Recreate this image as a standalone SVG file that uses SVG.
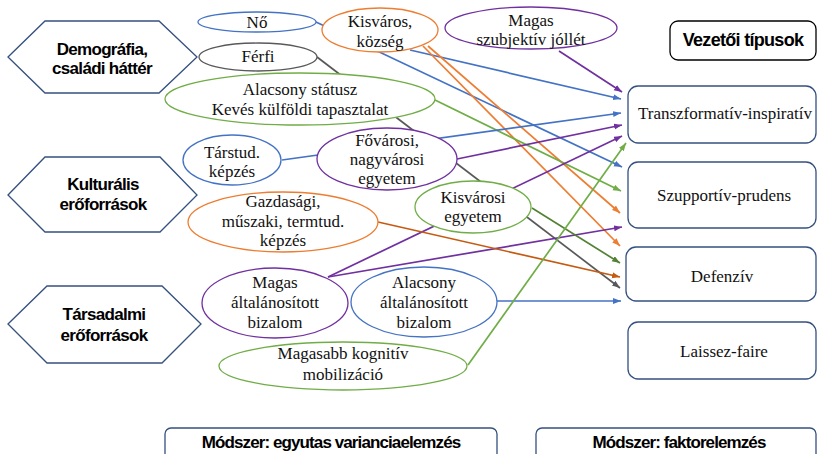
<svg xmlns="http://www.w3.org/2000/svg" width="817" height="454" viewBox="0 0 817 454">
<defs>
<style>
.hex{fill:#fff;stroke:#34507f;stroke-width:1.3}
.el{fill:#fff;stroke-width:1.3}
.box{fill:#fff;stroke:#34507f;stroke-width:1.3}
.hd{font-family:"Liberation Sans",Arial,sans-serif;font-weight:bold;font-size:17px;letter-spacing:-0.7px;text-anchor:middle;fill:#000}
.t{font-family:"Liberation Serif","Times New Roman",serif;font-size:17px;text-anchor:middle;fill:#111}
.c{fill:none;stroke-width:1.7}
.blue{stroke:#4472c4}.purple{stroke:#7030a0}.orange{stroke:#ed7d31}.green{stroke:#70ad47}.gray{stroke:#595959}.dorange{stroke:#c55a11}.dgreen{stroke:#548235}
</style>
<marker id="aBlue" markerUnits="userSpaceOnUse" markerWidth="9" markerHeight="7" refX="8" refY="3" orient="auto"><path d="M0,0 L8,3 L0,6 z" fill="#4472c4"/></marker>
<marker id="aPurple" markerUnits="userSpaceOnUse" markerWidth="9" markerHeight="7" refX="8" refY="3" orient="auto"><path d="M0,0 L8,3 L0,6 z" fill="#7030a0"/></marker>
<marker id="aOrange" markerUnits="userSpaceOnUse" markerWidth="9" markerHeight="7" refX="8" refY="3" orient="auto"><path d="M0,0 L8,3 L0,6 z" fill="#ed7d31"/></marker>
<marker id="aGreen" markerUnits="userSpaceOnUse" markerWidth="9" markerHeight="7" refX="8" refY="3" orient="auto"><path d="M0,0 L8,3 L0,6 z" fill="#70ad47"/></marker>
<marker id="aGray" markerUnits="userSpaceOnUse" markerWidth="9" markerHeight="7" refX="8" refY="3" orient="auto"><path d="M0,0 L8,3 L0,6 z" fill="#595959"/></marker>
<marker id="aDOrange" markerUnits="userSpaceOnUse" markerWidth="9" markerHeight="7" refX="8" refY="3" orient="auto"><path d="M0,0 L8,3 L0,6 z" fill="#c55a11"/></marker>
<marker id="aDGreen" markerUnits="userSpaceOnUse" markerWidth="9" markerHeight="7" refX="8" refY="3" orient="auto"><path d="M0,0 L8,3 L0,6 z" fill="#548235"/></marker>
</defs>
<rect width="817" height="454" fill="#fff"/>

<g id="connectors">
<line class="c blue" x1="316" y1="22" x2="622" y2="167" marker-end="url(#aBlue)"/>
<line class="c blue" x1="410" y1="50" x2="621" y2="99" marker-end="url(#aBlue)"/>
<line class="c orange" x1="423" y1="46" x2="620" y2="246" marker-end="url(#aOrange)"/>
<line class="c orange" x1="428" y1="46" x2="620" y2="213" marker-end="url(#aOrange)"/>
<line class="c purple" x1="559" y1="51" x2="622" y2="92" marker-end="url(#aPurple)"/>
<line class="c gray" x1="317" y1="57" x2="620" y2="288" marker-end="url(#aGray)"/>
<line class="c green" x1="435" y1="100" x2="621" y2="191" marker-end="url(#aGreen)"/>
<line class="c blue" x1="282" y1="160" x2="621" y2="113" marker-end="url(#aBlue)"/>
<line class="c purple" x1="457" y1="159" x2="622" y2="125" marker-end="url(#aPurple)"/>
<line class="c purple" x1="328" y1="277" x2="622" y2="136" marker-end="url(#aPurple)"/>
<line class="c purple" x1="328" y1="277" x2="622" y2="227" marker-end="url(#aPurple)"/>
<line class="c dgreen" x1="532" y1="208" x2="620" y2="263" marker-end="url(#aDGreen)"/>
<line class="c dorange" x1="378" y1="222" x2="620" y2="277" marker-end="url(#aDOrange)"/>
<line class="c blue" x1="497" y1="301" x2="621" y2="301" marker-end="url(#aBlue)"/>
<line class="c green" x1="468" y1="365" x2="626" y2="143" marker-end="url(#aGreen)"/>
</g>

<g id="hex-demografia">
<polygon class="hex" points="8,57 45,21 159,21 197,57 159,93 45,93"/>
<text class="hd" x="102" y="55">Demográfia,</text>
<text class="hd" x="102" y="74">családi háttér</text>
</g>
<g id="hex-kulturalis">
<polygon class="hex" points="8,195 45,157 160,157 197,195 160,232 45,232"/>
<text class="hd" x="103" y="190">Kulturális</text>
<text class="hd" x="103" y="210">erőforrások</text>
</g>
<g id="hex-tarsadalmi">
<polygon class="hex" points="8,324 47,286 162,286 201,324 162,363 47,363"/>
<text class="hd" x="104" y="320">Társadalmi</text>
<text class="hd" x="104" y="341">erőforrások</text>
</g>

<g id="node-no">
<ellipse class="el blue" cx="257" cy="22" rx="59" ry="10"/>
<text class="t" x="257" y="28">Nő</text>
</g>
<g id="node-kisvaros">
<ellipse class="el orange" cx="380" cy="30" rx="58" ry="22"/>
<text class="t" x="380" y="27">Kisváros,</text>
<text class="t" x="380" y="47">község</text>
</g>
<g id="node-szubjektiv">
<ellipse class="el purple" cx="531" cy="28" rx="86" ry="21"/>
<text class="t" x="531" y="26">Magas</text>
<text class="t" x="531" y="45">szubjektív jóllét</text>
</g>
<g id="node-ferfi">
<ellipse class="el gray" cx="258" cy="57" rx="59" ry="14"/>
<text class="t" x="258" y="62">Férfi</text>
</g>
<g id="node-alacsony-statusz">
<ellipse class="el green" cx="300" cy="99" rx="135" ry="26"/>
<text class="t" x="300" y="95">Alacsony státusz</text>
<text class="t" x="300" y="115">Kevés külföldi tapasztalat</text>
</g>
<g id="node-tarstud">
<ellipse class="el blue" cx="232" cy="160" rx="49" ry="25"/>
<text class="t" x="232" y="158">Társtud.</text>
<text class="t" x="232" y="177">képzés</text>
</g>
<g id="node-fovarosi">
<ellipse class="el purple" cx="387" cy="159" rx="70" ry="31"/>
<text class="t" x="387" y="146">Fővárosi,</text>
<text class="t" x="387" y="165">nagyvárosi</text>
<text class="t" x="387" y="184">egyetem</text>
</g>
<g id="node-gazdasagi">
<ellipse class="el orange" cx="283" cy="222" rx="95" ry="30"/>
<text class="t" x="283" y="207">Gazdasági,</text>
<text class="t" x="283" y="227">műszaki, termtud.</text>
<text class="t" x="283" y="246">képzés</text>
</g>
<g id="node-kisvarosi">
<ellipse class="el green" cx="473" cy="207" rx="58" ry="26"/>
<text class="t" x="473" y="203">Kisvárosi</text>
<text class="t" x="473" y="222">egyetem</text>
</g>
<g id="node-magas-bizalom">
<ellipse class="el purple" cx="275" cy="303" rx="73" ry="35"/>
<text class="t" x="275" y="288">Magas</text>
<text class="t" x="275" y="308">általánosított</text>
<text class="t" x="275" y="328">bizalom</text>
</g>
<g id="node-alacsony-bizalom">
<ellipse class="el blue" cx="424" cy="302" rx="73" ry="35"/>
<text class="t" x="424" y="288">Alacsony</text>
<text class="t" x="424" y="308">általánosított</text>
<text class="t" x="424" y="328">bizalom</text>
</g>
<g id="node-kognitiv">
<ellipse class="el green" cx="343" cy="366" rx="124" ry="24"/>
<text class="t" x="343" y="359">Magasabb kognitív</text>
<text class="t" x="343" y="380">mobilizáció</text>
</g>

<g id="title-vezetoi">
<rect x="670" y="21" width="146" height="39" rx="8" fill="#fff" stroke="#000" stroke-width="1.3"/>
<text class="hd" x="743" y="46" style="font-size:18px">Vezetői típusok</text>
</g>
<g id="box-transzformativ">
<rect class="box" x="628" y="86" width="188" height="57" rx="10"/>
<text class="t" x="725" y="119">Transzformatív-inspiratív</text>
</g>
<g id="box-szupportiv">
<rect class="box" x="628" y="162" width="188" height="66" rx="10"/>
<text class="t" x="724" y="201">Szupportív-prudens</text>
</g>
<g id="box-defenziv">
<rect class="box" x="626" y="247" width="190" height="54" rx="10"/>
<text class="t" x="722" y="282">Defenzív</text>
</g>
<g id="box-laissez">
<rect class="box" x="628" y="322" width="188" height="57" rx="10"/>
<text class="t" x="724" y="357">Laissez-faire</text>
</g>

<g id="method-1">
<rect class="box" x="165" y="428" width="332" height="40" rx="6"/>
<text class="hd" x="331" y="448" style="letter-spacing:-0.9px">Módszer: egyutas varianciaelemzés</text>
</g>
<g id="method-2">
<rect class="box" x="536" y="428" width="280" height="40" rx="6"/>
<text class="hd" x="679" y="448" style="letter-spacing:-0.9px">Módszer: faktorelemzés</text>
</g>
</svg>
